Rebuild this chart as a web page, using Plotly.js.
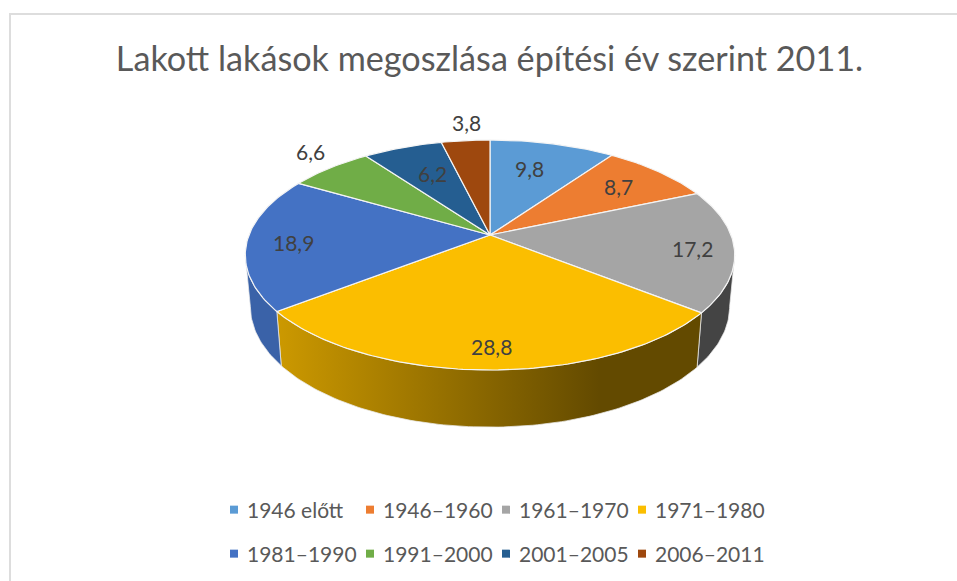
<!DOCTYPE html>
<html><head><meta charset="utf-8">
<script src="https://cdn.plot.ly/plotly-3.0.1.min.js"></script>
<style>html,body{margin:0;padding:0;background:#fff}#c{width:957px;height:581px}</style>
</head><body><div id="c"></div>
<script>
const categories = ['1946 előtt','1946–1960','1961–1970','1971–1980','1981–1990','1991–2000','2001–2005','2006–2011'];
const values = [9.8,8.7,17.2,28.8,18.9,6.6,6.2,3.8];
const topColors = ['#5B9BD5','#ED7D31','#A5A5A5','#FBBE00','#4472C4','#70AD47','#255E91','#9E480E'];
const title = 'Lakott lakások megoszlása építési év szerint 2011.';
// text placement of the value labels
const labelX = [529,618,692,491,293,310,432,466];
const labelY = [168,186,248,346,242,151,173,122];

// perspective projection of the tilted disc
const apex = {x:490,y:235}, persp = 0.174;
const topDisc = {w:241,h:111.5,y:235}, baseDisc = {w:236,h:117,y:285.5};
const wallFrom = 100, wallTo = 260;
function proj(deg,d){
  const t = deg*Math.PI/180, s = Math.sin(t), c = Math.cos(t), k = 1+persp*c;
  return [apex.x+d.w*s/k, d.y-d.h*c/k];
}
function arc(a,b,d){
  const pts=[], n=Math.max(2,Math.ceil(Math.abs(b-a)));
  for(let i=0;i<=n;i++) pts.push(proj(a+(b-a)*i/n,d));
  return pts;
}
const total = values.reduce((p,v)=>p+v,0);
let acc=0;
const slices = values.map(v=>{const a=acc/total*360; acc+=v; return [a,acc/total*360];});

const wallStyle = {
  2:{fillcolor:'#444444'},
  3:{fillgradient:{type:'horizontal',colorscale:[[0,'#CC9900'],[0.76,'#634A00'],[1,'#634A00']]}},
  4:{fillcolor:'#3A62A8'}
};
const traces=[];
slices.forEach((s,i)=>{
  const a=Math.max(s[0],wallFrom), b=Math.min(s[1],wallTo);
  if(a>=b) return;
  const pts=arc(a,b,topDisc).concat(arc(b,a,baseDisc)); pts.push(pts[0]);
  traces.push(Object.assign({type:'scatter',mode:'lines',x:pts.map(p=>p[0]),y:pts.map(p=>p[1]),
    fill:'toself',line:{color:'rgba(235,235,235,0.75)',width:1},hoverinfo:'skip',showlegend:false},wallStyle[i]));
});
slices.forEach((s,i)=>{
  const pts=[[apex.x,apex.y]].concat(arc(s[0],s[1],topDisc)); pts.push([apex.x,apex.y]);
  traces.push({type:'scatter',mode:'lines',x:pts.map(p=>p[0]),y:pts.map(p=>p[1]),fill:'toself',
    fillcolor:topColors[i],line:{color:'#F4F4F4',width:1.2},name:categories[i],
    text:values[i].toFixed(1).replace('.',','),hoverinfo:'name+text',showlegend:false});
});
categories.forEach((c,i)=>{
  traces.push({type:'scatter',mode:'markers',x:[null],y:[null],name:c,
    marker:{symbol:'square',size:8,color:topColors[i]},legend:i<4?'legend':'legend2',hoverinfo:'skip'});
});
const legendBase = {orientation:'h',xref:'paper',yref:'paper',xanchor:'left',yanchor:'middle',x:214/957,
  entrywidth:91,entrywidthmode:'pixels',itemclick:false,itemdoubleclick:false,
  font:{family:'Lato, sans-serif',size:21,color:'#595959'},bgcolor:'rgba(0,0,0,0)'};
const layout = {
  width:957,height:581,margin:{l:0,r:0,t:0,b:0},paper_bgcolor:'#fff',plot_bgcolor:'#fff',
  xaxis:{range:[0,957],visible:false,fixedrange:true},
  yaxis:{range:[581,0],visible:false,fixedrange:true},
  title:{text:title,x:489.5/957,xanchor:'center',xref:'paper',y:1-59/581,yanchor:'middle',yref:'paper',
    font:{family:'Lato, sans-serif',size:34.2,color:'#595959'}},
  legend:Object.assign({},legendBase,{y:1-510/581}),
  legend2:Object.assign({},legendBase,{y:1-554/581}),
  shapes:[{type:'rect',xref:'x',yref:'y',x0:10,y0:14,x1:1100,y1:900,line:{color:'#DDDDDD',width:2},layer:'below'}],
  annotations:values.map((v,i)=>({xref:'x',yref:'y',x:labelX[i],y:labelY[i],showarrow:false,
    text:v.toFixed(1).replace('.',','),font:{family:'Lato, sans-serif',size:21,color:'#404040'}}))
};
Plotly.newPlot('c',traces,layout,{displayModeBar:false,responsive:false}).then(gd=>{
  gd.querySelectorAll('.legend .legendtext, .legend2 .legend2text').forEach(n=>{
    n.setAttribute('x',parseFloat(n.getAttribute('x')||0)-7);
  });
  gd.querySelectorAll('.legend .scrollbox, .legend2 .scrollbox').forEach(n=>n.removeAttribute('clip-path'));
});
</script></body></html>
